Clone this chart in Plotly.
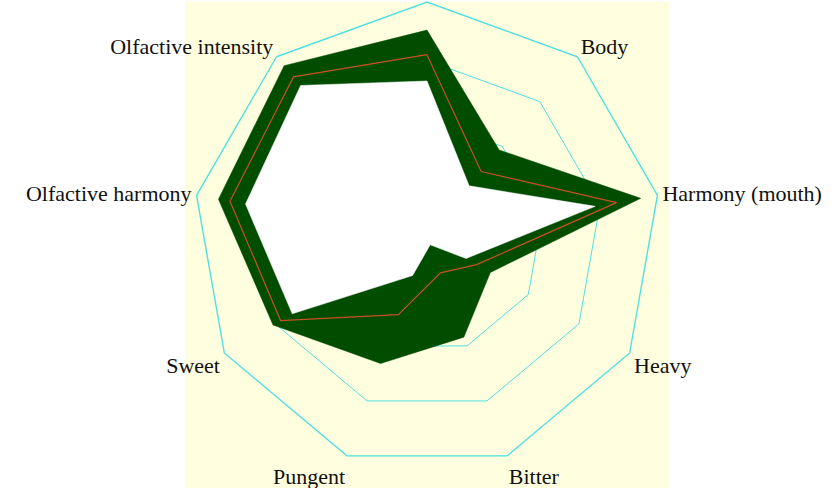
import plotly.graph_objects as go

categories = ["Finish", "Body", "Harmony (mouth)", "Heavy", "Bitter",
              "Pungent", "Sweet", "Olfactive harmony", "Olfactive intensity"]
# the top label lies outside the picture in the reference
tick_labels = ["", "Body", "Harmony (mouth)", "Heavy", "Bitter",
               "Pungent", "Sweet", "Olfactive harmony", "Olfactive intensity"]
max_vals = [3.52, 1.92, 3.71, 1.25, 1.84, 2.32, 3.04, 3.62, 3.80]
mean_vals = [3.10, 1.44, 3.29, 0.98, 0.67, 1.43, 2.89, 3.42, 3.55]
min_vals = [2.65, 1.12, 2.92, 0.77, 0.16, 0.72, 2.66, 3.15, 3.36]

def closed(v):
    return list(v) + [v[0]]

cats_c = closed(categories)

W, H = 839, 488
L, T, SIDE = 193, 2, 468
R_M = W - L - SIDE
B_M = H - T - SIDE

fig = go.Figure()
fig.add_trace(go.Scatterpolar(r=closed(max_vals), theta=cats_c, mode="lines",
                              fill="toself", fillcolor="#004d00",
                              line=dict(color="#004d00", width=0.5),
                              name="Max", showlegend=False, hoverinfo="skip"))
fig.add_trace(go.Scatterpolar(r=closed(min_vals), theta=cats_c, mode="lines",
                              fill="toself", fillcolor="white",
                              line=dict(color="white", width=0.5),
                              name="Min", showlegend=False, hoverinfo="skip"))
fig.add_trace(go.Scatterpolar(r=closed(mean_vals), theta=cats_c, mode="lines",
                              line=dict(color="#c8501e", width=1.2),
                              name="Mean", showlegend=False))

# yellow panel behind the radar, spanning 185..669 px horizontally and 2..488 px vertically
px0, px1, py_top, py_bot = 185, 669, 2, 488
fig.update_layout(
    width=W, height=H,
    margin=dict(l=L, r=R_M, t=T, b=B_M),
    paper_bgcolor="white",
    font=dict(family="Liberation Serif", size=22, color="#111111"),
    shapes=[dict(type="rect", xref="paper", yref="paper",
                 x0=(px0 - L) / SIDE, x1=(px1 - L) / SIDE,
                 y0=1 - (py_bot - T) / SIDE, y1=1 - (py_top - T) / SIDE,
                 fillcolor="#ffffe0", line=dict(width=0), layer="below")],
    polar=dict(
        bgcolor="rgba(0,0,0,0)",
        gridshape="linear",
        domain=dict(x=[0, 1], y=[0, 1]),
        radialaxis=dict(range=[0, 4], dtick=1, showticklabels=False, ticks="",
                        showline=False, gridcolor="#4fe0e0", gridwidth=1.4,
                        layer="below traces"),
        angularaxis=dict(direction="clockwise", rotation=90, showgrid=False,
                         showline=True, linecolor="#4fe0e0", linewidth=1.4,
                         ticks="", layer="below traces",
                         tickmode="array", tickvals=categories, ticktext=tick_labels,
                         tickfont=dict(family="Liberation Serif", size=22, color="#111111")),
    ),
)

fig.write_html("out.html", config={"displayModeBar": False},
               post_script="document.body.style.margin='0px';document.body.style.overflow='hidden';")
